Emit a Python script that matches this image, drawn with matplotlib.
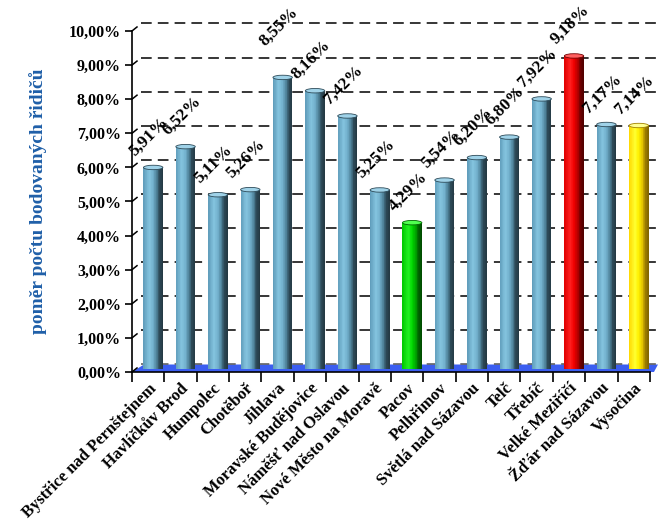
import matplotlib
matplotlib.use("Agg")
import matplotlib.pyplot as plt
import matplotlib.transforms as mtrans
from matplotlib.patches import Ellipse, Polygon
from matplotlib.colors import LinearSegmentedColormap
import numpy as np

# data
obce = ["Bystřice nad Pernštejnem", "Havlíčkův Brod", "Humpolec", "Chotěboř",
        "Jihlava", "Moravské Budějovice", "Náměšť nad Oslavou",
        "Nové Město na Moravě", "Pacov", "Pelhřimov", "Světlá nad Sázavou",
        "Telč", "Třebíč", "Velké Meziříčí", "Žďár nad Sázavou", "Vysočina"]
podil = [5.91, 6.52, 5.11, 5.26, 8.55, 8.16, 7.42, 5.25, 4.29, 5.54, 6.20,
         6.80, 7.92, 9.18, 7.17, 7.14]
y_ticks = [0, 1, 2, 3, 4, 5, 6, 7, 8, 9, 10]

# barvy sloupcu (zvyraznene: min, max, kraj)
grad = {
    "blue": ["#5f9cba", "#84c4df", "#72b0cc", "#4a7c93", "#2d4a58", "#233842"],
    "green": ["#00c800", "#22f022", "#00d800", "#00a000", "#006400", "#004a00"],
    "red": ["#e00000", "#ff2020", "#f00000", "#b00000", "#700000", "#500000"],
    "yellow": ["#ffd800", "#ffff30", "#fff000", "#e0c000", "#a08000", "#806400"],
}
top_col = {"blue": "#9fd2e8", "green": "#50ff50", "red": "#ff6060", "yellow": "#ffff90"}
special = {8: "green", 13: "red", 15: "yellow"}
label_nudge = {4: 14}  # Jihlava popisek posunut vys

serif = "Liberation Serif"
fig = plt.figure(figsize=(6.58, 5.26), dpi=100)
ax = fig.add_axes([0.2006, 0.2928, 0.7872, 0.6483])
n = len(obce)
ax.set_xlim(0, n)
ax.set_ylim(0, 10)

back = mtrans.ScaledTranslation(0.09, 0.075, fig.dpi_scale_trans)
mid = mtrans.ScaledTranslation(0.05, 0.03, fig.dpi_scale_trans)
t_back = ax.transData + back
t_mid = ax.transData + mid

# podlaha (v pixelech)
x0p, y0p = ax.transData.transform((0, 0))
x1p, _ = ax.transData.transform((n, 0))
floor = Polygon([(x0p, y0p), (x1p + 4, y0p), (x1p + 8, y0p + 7.5), (x0p + 12, y0p + 7.5)],
                closed=True, transform=None, facecolor="#3b5ef0", edgecolor="none",
                zorder=1, clip_on=False)
ax.add_artist(floor)

# mrizka (posunuta do hloubky)
for yt in y_ticks:
    ax.plot([0, n], [yt, yt], transform=t_back, color="black" if yt else "#555555",
            lw=1.1, ls=(0, (7, 4)), clip_on=False, zorder=1.5)

# sloupce
w = 0.6
nstrips = 30
for i, v in enumerate(podil):
    key = special.get(i, "blue")
    cmap = LinearSegmentedColormap.from_list(key, list(zip([0, 0.3, 0.5, 0.7, 0.82, 1.0], grad[key])))
    left = i + 0.5 - w / 2
    sw = w / nstrips
    for k in range(nstrips):
        ax.bar(left + k * sw, v, width=sw * 1.05, align="edge",
               color=cmap((k + 0.5) / nstrips), linewidth=0,
               transform=t_mid, zorder=3, clip_on=False)
    ax.add_patch(Ellipse((i + 0.5, v), w, 0.13, transform=t_mid,
                         facecolor=top_col[key], edgecolor=grad[key][4], lw=0.6,
                         zorder=4, clip_on=False))
    ax.annotate(f"{v:.2f}%".replace(".", ","), xy=(left, v), xycoords=t_mid,
                xytext=(-4, 6 + label_nudge.get(i, 0)), textcoords="offset points",
                rotation=45, rotation_mode="anchor", ha="left", va="bottom",
                fontsize=12.5, fontweight="bold", family=serif, zorder=5,
                annotation_clip=False)

# osy
for s in ["top", "right"]:
    ax.spines[s].set_visible(False)
ax.spines["left"].set_linewidth(1.2)
ax.spines["bottom"].set_linewidth(1.2)
ax.set_yticks(y_ticks)
ax.set_yticklabels([f"{t},00%" for t in y_ticks], fontsize=11.5, fontweight="bold", family=serif)
ax.set_xticks(np.arange(0, n + 1))
ax.set_xticklabels([])
ax.set_xticks(np.arange(n) + 0.5, minor=True)
ax.set_xticklabels(obce, minor=True, rotation=45, ha="right", rotation_mode="anchor",
                   fontsize=12, fontweight="bold", family=serif)
ax.tick_params(axis="x", which="major", length=7, width=1.2, direction="out")
ax.tick_params(axis="x", which="minor", length=0, pad=6)
ax.tick_params(axis="y", length=5, width=1.2, pad=3)
# sikme casti tiku osy y
for yt in y_ticks:
    p = ax.transData.transform((0, yt))
    ax.add_artist(plt.Line2D([p[0], p[0] + 5], [p[1], p[1] + 4], transform=None,
                             color="black", lw=1.1, clip_on=False))

ax.set_ylabel("poměr počtu bodovaných řidičů", fontsize=14, fontweight="bold",
              family=serif, color="#1f5fa8", labelpad=16)

fig.savefig("out.png", dpi=100)
